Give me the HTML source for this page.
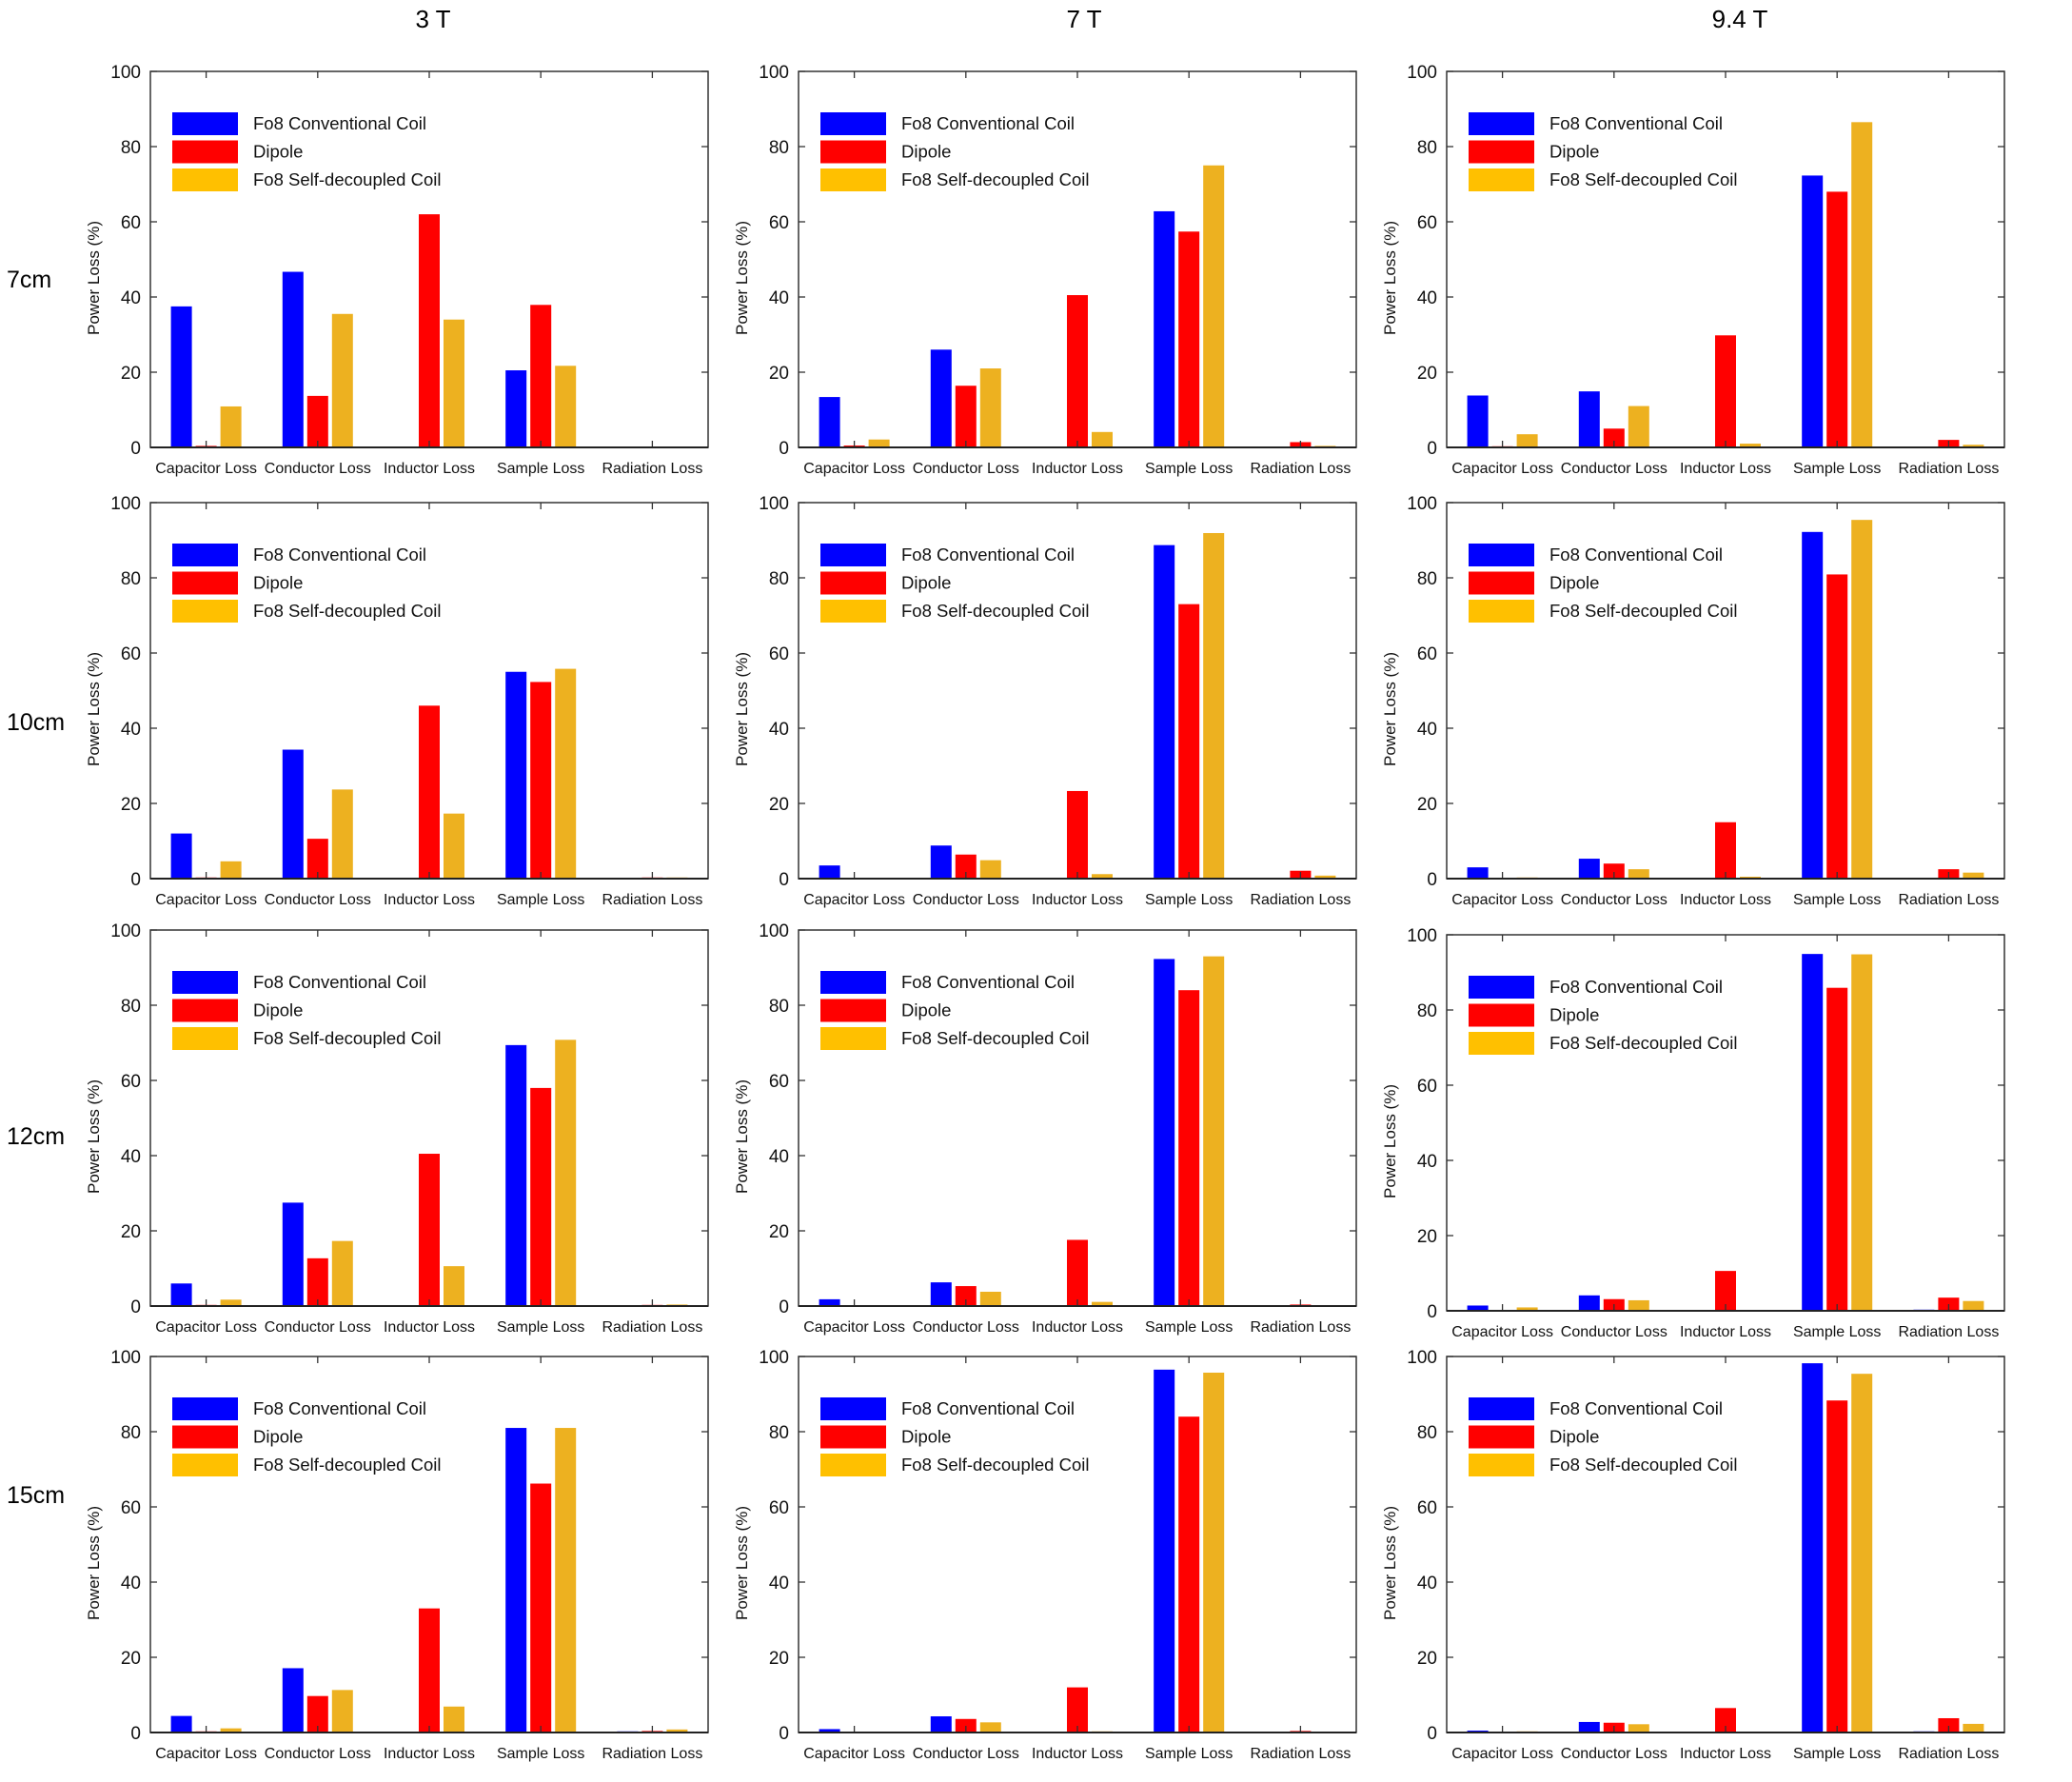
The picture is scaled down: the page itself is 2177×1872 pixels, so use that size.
<!DOCTYPE html>
<html><head><meta charset="utf-8"><style>
html,body{margin:0;padding:0;background:#fff;}
svg{display:block;font-family:"Liberation Sans",Arial,sans-serif;}
</style></head><body>
<svg id="fig" width="2177" height="1872" viewBox="0 0 2177 1872" xmlns="http://www.w3.org/2000/svg"></svg>
<script>
const categories = ["Capacitor Loss","Conductor Loss","Inductor Loss","Sample Loss","Radiation Loss"];
const fieldLabels = ["3 T","7 T","9.4 T"];
const depthLabels = ["7cm","10cm","12cm","15cm"];
const yTicks = [0,20,40,60,80,100];
const seriesNames = ["Fo8 Conventional Coil","Dipole","Fo8 Self-decoupled Coil"];
// [row][col][category]
const conventional = [
 [[37.5,46.7,0,20.5,0.1],[13.4,26,0,62.8,0.1],[13.8,14.9,0,72.3,0.1]],
 [[12,34.3,0,55,0.2],[3.5,8.8,0,88.7,0.1],[3,5.3,0,92.2,0.2]],
 [[6,27.5,0,69.4,0.2],[1.8,6.3,0,92.3,0.1],[1.4,4.1,0.1,94.9,0.3]],
 [[4.4,17.1,0.1,81,0.3],[0.9,4.3,0,96.5,0.1],[0.5,2.8,0,98.2,0.3]]
];
const dipole = [
 [[0.4,13.7,62,37.9,0.2],[0.5,16.4,40.5,57.4,1.4],[0.3,5,29.8,68,2]],
 [[0.3,10.6,46,52.3,0.3],[0.2,6.4,23.3,73,2.1],[0.2,4,15,80.9,2.5]],
 [[0.3,12.7,40.5,58,0.3],[0.1,5.3,17.6,84,0.4],[0.1,3.1,10.6,85.9,3.5]],
 [[0.3,9.7,33,66.2,0.4],[0,3.6,12,84,0.4],[0.1,2.6,6.5,88.3,3.8]]
];
const selfDecoupled = [
 [[10.9,35.5,34,21.7,0.1],[2.1,21,4.1,75,0.4],[3.5,11,1,86.5,0.7]],
 [[4.6,23.7,17.3,55.8,0.3],[0.2,4.9,1.2,91.9,0.8],[0.3,2.5,0.5,95.4,1.6]],
 [[1.7,17.3,10.6,70.8,0.4],[0.1,3.8,1.1,93,0.1],[0.9,2.8,0.1,94.8,2.6]],
 [[1.1,11.3,6.9,81,0.8],[0.1,2.7,0.3,95.7,0.1],[0.3,2.2,0.1,95.4,2.3]]
];
const barColors = ["#0000ff","#ff0000","#edb120"];
const legendColors = ["#0000ff","#ff0000","#ffc000"];

const NS = "http://www.w3.org/2000/svg";
const svg = document.getElementById("fig");
function mk(tag, attrs, parent, text){
  const e = document.createElementNS(NS, tag);
  for (const k in attrs) e.setAttribute(k, attrs[k]);
  if (text !== undefined) e.textContent = text;
  (parent||svg).appendChild(e);
  return e;
}
const colLeft = [158, 839, 1520];
const rowTop = [75, 528, 977, 1425];
const W = 586, H = 395;
const rowLabelY = [293, 758, 1193, 1570];
const colTitleX = [455, 1139, 1828];

fieldLabels.forEach((t,i)=>{
  const e = mk("text",{x:colTitleX[i],y:29,"text-anchor":"middle","font-size":26,fill:"#000"},svg,t);
  
  
});
depthLabels.forEach((t,i)=>{
  const e = mk("text",{x:7,y:rowLabelY[i]+9,"font-size":25,fill:"#000"},svg,t);
  
  
});

for (let r=0;r<4;r++){
  for (let c=0;c<3;c++){
    const dy = (r===2 && c===2) ? 5 : 0;
    const L = colLeft[c], T = rowTop[r]+dy, B = T+H, R = L+W;
    const g = mk("g",{});
    
    
    const yS = v => B - v/100*H;
    const xC = i => L + (i+0.5)*W/5;
    yTicks.forEach(v=>{
      const y = yS(v);
      mk("line",{x1:L,x2:L+7,y1:y,y2:y,stroke:"#333","stroke-width":1.3},g);
      mk("line",{x1:R,x2:R-7,y1:y,y2:y,stroke:"#333","stroke-width":1.3},g);
      const t = mk("text",{x:L-10,y:y+7,"text-anchor":"end","font-size":19,fill:"#111"},g,String(v));
      
      
    });
    categories.forEach((cat,i)=>{
      [conventional,dipole,selfDecoupled].forEach((s,k)=>{
        const v = s[r][c][i];
        const bx = xC(i) + (k-1)*26 - 11;
        const b = mk("rect",{x:bx,y:yS(v),width:22,height:B-yS(v),fill:barColors[k]},g);
        
        
      });
      mk("line",{x1:xC(i),x2:xC(i),y1:T,y2:T+7,stroke:"#333","stroke-width":1.3},g);
      mk("line",{x1:xC(i),x2:xC(i),y1:B,y2:B-7,stroke:"#333","stroke-width":1.3},g);
      const t = mk("text",{x:xC(i),y:B+27,"text-anchor":"middle","font-size":16,fill:"#111"},g,cat);
      
      
    });
    const box = mk("rect",{x:L,y:T,width:W,height:H,fill:"none",stroke:"#333","stroke-width":1.5},g);
    
    
    mk("line",{x1:L,x2:R,y1:B,y2:B,stroke:"#222","stroke-width":2},g);
    const yt = mk("text",{x:0,y:0,"text-anchor":"middle","font-size":17,fill:"#111",transform:`translate(${L-54},${T+217}) rotate(-90)`},g,"Power Loss (%)");
    
    
    const lg = mk("g",{},g);
    
    
    seriesNames.forEach((n,k)=>{
      const ly = T + 43 + k*29.5;
      mk("rect",{x:L+23,y:ly,width:69,height:24,fill:legendColors[k]},lg);
      const t = mk("text",{x:L+108,y:ly+18,"font-size":18.5,fill:"#111"},lg,n);
      
      
    });
  }
}
</script>
</body></html>
